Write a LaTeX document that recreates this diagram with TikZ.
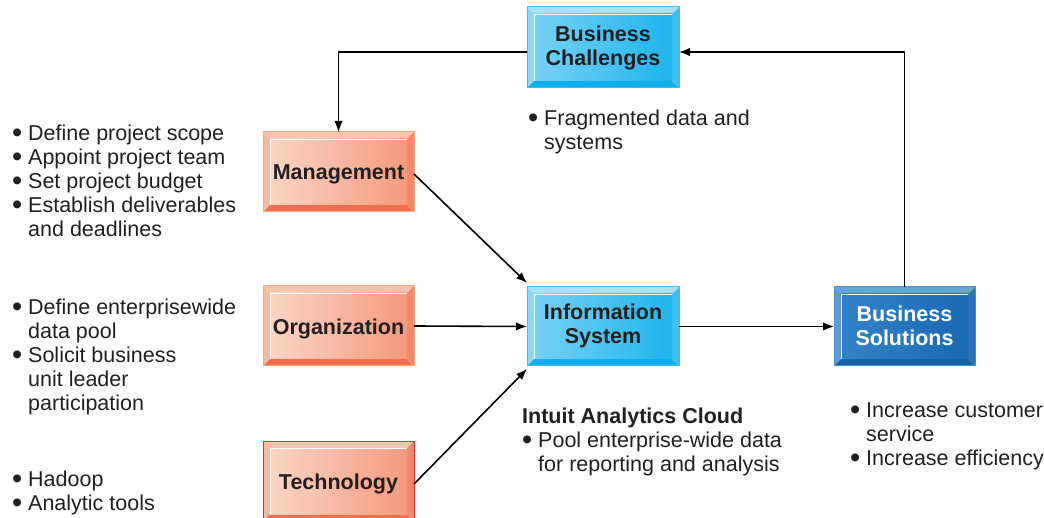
\documentclass[tikz,border=0pt]{standalone}
\usepackage{fontspec}
\setmainfont{Liberation Sans}
\usetikzlibrary{arrows.meta}
% cyan scheme
\definecolor{cyTop}{HTML}{A6E2F9}
\definecolor{cyLeft}{HTML}{8AD8F6}
\definecolor{cyBot}{HTML}{10AEEA}
\definecolor{cyRight}{HTML}{3FC0F0}
\definecolor{cyInL}{HTML}{78D1F4}
\definecolor{cyInR}{HTML}{1EB5EE}
\definecolor{cyEdge}{HTML}{3DBFEE}
\definecolor{cyTxt}{HTML}{231F20}
% salmon scheme
\definecolor{saTop}{HTML}{F9C4AE}
\definecolor{saLeft}{HTML}{F7B9A2}
\definecolor{saBot}{HTML}{EF6E4E}
\definecolor{saRight}{HTML}{F28A6B}
\definecolor{saInL}{HTML}{FBD5C5}
\definecolor{saInR}{HTML}{F49A7E}
\definecolor{saEdge}{HTML}{F5A677}
\definecolor{saTxt}{HTML}{231F20}
\definecolor{techEdge}{HTML}{E52D2E}
% blue scheme
\definecolor{blTop}{HTML}{6AA3DA}
\definecolor{blLeft}{HTML}{5C9AD5}
\definecolor{blBot}{HTML}{175FA7}
\definecolor{blRight}{HTML}{2A72BA}
\definecolor{blInL}{HTML}{3183C9}
\definecolor{blInR}{HTML}{1A69B3}
\definecolor{blEdge}{HTML}{4A8FCF}
\definecolor{blTxt}{HTML}{FFFFFF}
\definecolor{txt}{HTML}{231F20}

\newcommand\bdot{\raisebox{-2.4pt}[0pt][0pt]{\scalebox{1.35}{\textbullet}}}
\newcommand\bu{\makebox[16pt][l]{\bdot}}
\newcommand\ind{\hspace*{16pt}}
\newcommand\fst{\rule{0pt}{17pt}}

% #1 name, #2 center, #3 width, #4 height, #5 scheme, #6 edge colour, #7 text, #8 label shift
\newcommand\bevbox[8]{%
 \node[minimum width=#3pt, minimum height=#4pt, inner sep=0pt, outer sep=0pt] (#1) at (#2) {};
 \fill[#5Top] (#1.north west) -- (#1.north east) -- ([shift={(-7pt,-7pt)}]#1.north east) -- ([shift={(7pt,-7pt)}]#1.north west) -- cycle;
 \fill[#5Left] (#1.north west) -- ([shift={(7pt,-7pt)}]#1.north west) -- ([shift={(7pt,7pt)}]#1.south west) -- (#1.south west) -- cycle;
 \fill[#5Bot] (#1.south west) -- ([shift={(7pt,7pt)}]#1.south west) -- ([shift={(-7pt,7pt)}]#1.south east) -- (#1.south east) -- cycle;
 \fill[#5Right] (#1.south east) -- ([shift={(-7pt,7pt)}]#1.south east) -- ([shift={(-7pt,-7pt)}]#1.north east) -- (#1.north east) -- cycle;
 \shade[left color=#5InL, right color=#5InR] ([shift={(7pt,-7pt)}]#1.north west) rectangle ([shift={(-7pt,7pt)}]#1.south east);
 \draw[white, line width=1pt] ([shift={(7.5pt,7pt)}]#1.south west) -- ([shift={(7.5pt,-7.5pt)}]#1.north west) -- ([shift={(-7pt,-7.5pt)}]#1.north east);
 \draw[#6, line width=1pt] (#1.north west) rectangle (#1.south east);
 \node[boxlabel, text=#5Txt] (#1-t) at ([yshift=#8]#1.center) {#7};
}

\begin{document}
\begin{tikzpicture}[x=1pt,y=-1pt,
  boxlabel/.style={align=center, font=\bfseries\fontsize{21.5}{24}\selectfont, inner sep=0pt},
  list/.style={align=left, anchor=north west, inner sep=0pt, text=txt, font=\fontsize{21.5}{24}\selectfont},
  arr/.style={line width=1.6pt, -{Latex[length=11pt,width=8.5pt]}}]
\useasboundingbox (0,0) rectangle (1044,518);
\fill[white] (0,0) rectangle (1044,518);

\bevbox{bc}{603,47.5}{152}{81}{cy}{cyEdge}{Business\\Challenges}{0pt}
\bevbox{mgmt}{338.5,172}{151}{80}{sa}{saEdge}{Management}{-2.5pt}
\bevbox{org}{338.5,326}{151}{80}{sa}{saEdge}{Organization}{-2.5pt}
\bevbox{tech}{338.5,481}{151}{80}{sa}{techEdge}{Technology}{-2.5pt}
\bevbox{is}{603,326.5}{152}{79}{cy}{cyEdge}{Information\\System}{1pt}
\bevbox{bs}{904.5,326.5}{141}{79}{bl}{blEdge}{Business\\Solutions}{1pt}

% lists
\node[list] (l-mgmt) at (12,123) {\fst\bu Define project scope\\\bu Appoint project team\\\bu Set project budget\\\bu Establish deliverables\\\ind and deadlines};
\node[list] (l-org) at (12,297) {\fst\bu Define enterprisewide\\\ind data pool\\\bu Solicit business\\\ind unit leader\\\ind participation};
\node[list] (l-tech) at (12,469) {\fst\bu Hadoop\\\bu Analytic tools};
\node[list] (l-bc) at (528,108) {\fst\bu Fragmented data and\\\ind systems};
\node[list] (l-is) at (522,406) {\fst\textbf{Intuit Analytics Cloud}\\\makebox[16pt][l]{\bdot}Pool enterprise-wide data\\\hspace*{16pt}for reporting and analysis};
\node[list] (l-bs) at (850,400) {\fst\bu Increase customer\\\ind service\\\bu Increase efficiency};

% connectors
\draw[arr] ([yshift=-4.5pt]bc.west) -| (mgmt.north);
\draw[arr] (bs.north) |- ([yshift=-4.5pt]bc.east);
\draw[arr] ([yshift=-2pt]mgmt.east) -- ([yshift=4pt]is.north west);
\draw[arr] (org.east) -- (is.west);
\draw[arr] ([yshift=-3pt]tech.east) -- ([yshift=-3pt]is.south west);
\draw[arr] (is.east) -- (bs.west);
\end{tikzpicture}
\end{document}
